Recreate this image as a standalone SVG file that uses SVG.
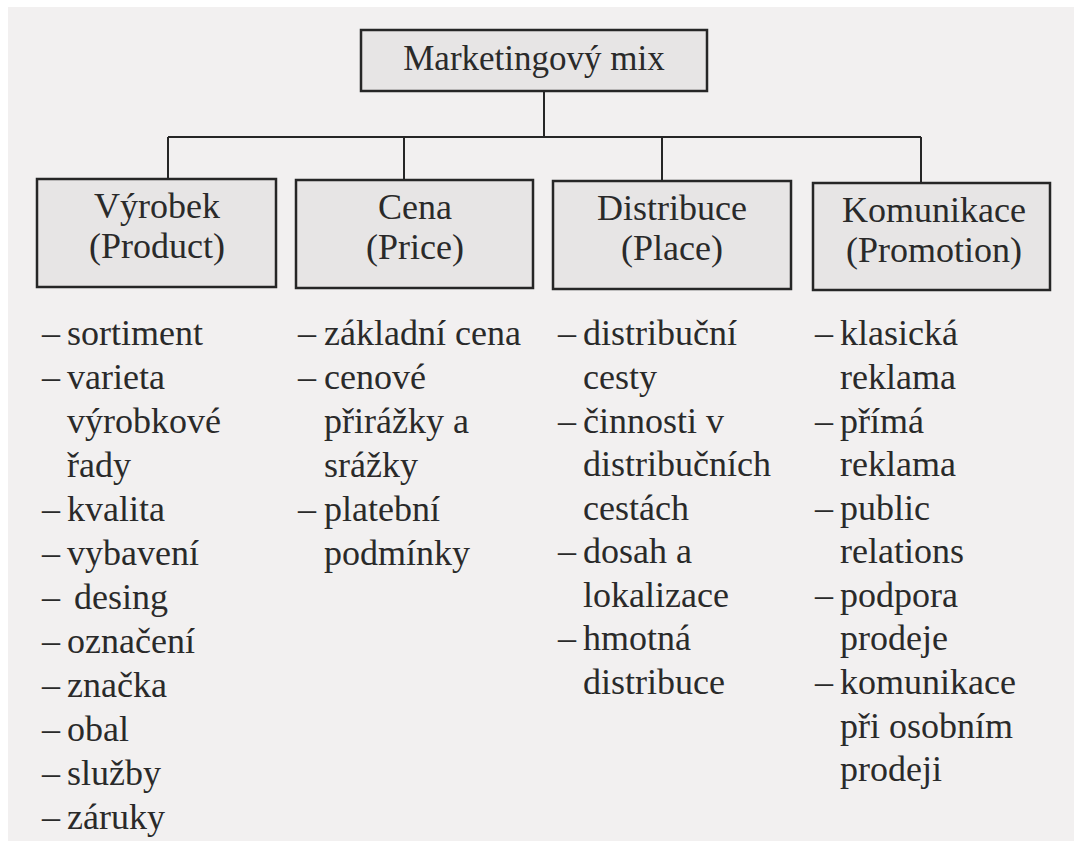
<svg xmlns="http://www.w3.org/2000/svg" width="1074" height="841" viewBox="0 0 1074 841">
<style>
.t{font-family:Liberation Serif, Times New Roman, Times, DejaVu Serif, serif;fill:#2a2a2a}
.lbl{font-size:36px;text-anchor:middle}
.ttl{font-size:35px;text-anchor:middle}
.li{font-size:36px}
.box{fill:#e7e5e5;stroke:#262626;stroke-width:2.5}
.con{fill:none;stroke:#262626;stroke-width:2}
</style>
<rect x="0" y="0" width="1074" height="841" fill="#ffffff"/>
<rect x="8" y="7" width="1066" height="834" fill="#f2f0f0"/>
<g id="connectors">
<path class="con" d="M544 91V137M168 137H921M168 137V179M404 137V180M662 137V181M921 137V183"/>
</g>
<g id="node-mix">
<rect class="box" x="361" y="30" width="346" height="61"/>
<text class="t ttl" font-family="Liberation Serif" x="534" y="70">Marketingový mix</text>
</g>
<g id="node-vyrobek">
<rect class="box" x="37" y="179" width="239" height="108"/>
<text class="t lbl" font-family="Liberation Serif" x="157" y="218">Výrobek</text>
<text class="t lbl" font-family="Liberation Serif" x="157" y="258">(Product)</text>
</g>
<g id="node-cena">
<rect class="box" x="296" y="180" width="237" height="108"/>
<text class="t lbl" font-family="Liberation Serif" x="415" y="219">Cena</text>
<text class="t lbl" font-family="Liberation Serif" x="415" y="259">(Price)</text>
</g>
<g id="node-distribuce">
<rect class="box" x="553" y="181" width="238" height="108"/>
<text class="t lbl" font-family="Liberation Serif" x="672" y="220">Distribuce</text>
<text class="t lbl" font-family="Liberation Serif" x="672" y="260">(Place)</text>
</g>
<g id="node-komunikace">
<rect class="box" x="813" y="183" width="237" height="107"/>
<text class="t lbl" font-family="Liberation Serif" x="934" y="222">Komunikace</text>
<text class="t lbl" font-family="Liberation Serif" x="934" y="262">(Promotion)</text>
</g>
<g id="list-vyrobek" font-family="Liberation Serif">
<text class="t li" y="345"><tspan x="42">–</tspan><tspan x="67">sortiment</tspan></text>
<text class="t li" y="389"><tspan x="42">–</tspan><tspan x="67">varieta</tspan></text>
<text class="t li" y="433"><tspan x="67">výrobkové</tspan></text>
<text class="t li" y="477"><tspan x="67">řady</tspan></text>
<text class="t li" y="521"><tspan x="42">–</tspan><tspan x="67">kvalita</tspan></text>
<text class="t li" y="565"><tspan x="42">–</tspan><tspan x="67">vybavení</tspan></text>
<text class="t li" y="609"><tspan x="42">–</tspan><tspan x="74">desing</tspan></text>
<text class="t li" y="653"><tspan x="42">–</tspan><tspan x="67">označení</tspan></text>
<text class="t li" y="697"><tspan x="42">–</tspan><tspan x="67">značka</tspan></text>
<text class="t li" y="741"><tspan x="42">–</tspan><tspan x="67">obal</tspan></text>
<text class="t li" y="785"><tspan x="42">–</tspan><tspan x="67">služby</tspan></text>
<text class="t li" y="829"><tspan x="42">–</tspan><tspan x="67">záruky</tspan></text>
</g>
<g id="list-cena" font-family="Liberation Serif">
<text class="t li" y="345"><tspan x="298">–</tspan><tspan x="324">základní cena</tspan></text>
<text class="t li" y="389"><tspan x="298">–</tspan><tspan x="324">cenové</tspan></text>
<text class="t li" y="433"><tspan x="324">přirážky a</tspan></text>
<text class="t li" y="477"><tspan x="324">srážky</tspan></text>
<text class="t li" y="521"><tspan x="298">–</tspan><tspan x="324">platební</tspan></text>
<text class="t li" y="565"><tspan x="324">podmínky</tspan></text>
</g>
<g id="list-distribuce" font-family="Liberation Serif">
<text class="t li" y="345"><tspan x="558">–</tspan><tspan x="583">distribuční</tspan></text>
<text class="t li" y="389"><tspan x="583">cesty</tspan></text>
<text class="t li" y="433"><tspan x="558">–</tspan><tspan x="583">činnosti v</tspan></text>
<text class="t li" y="476"><tspan x="583">distribučních</tspan></text>
<text class="t li" y="520"><tspan x="583">cestách</tspan></text>
<text class="t li" y="563"><tspan x="558">–</tspan><tspan x="583">dosah a</tspan></text>
<text class="t li" y="607"><tspan x="583">lokalizace</tspan></text>
<text class="t li" y="650"><tspan x="558">–</tspan><tspan x="583">hmotná</tspan></text>
<text class="t li" y="694"><tspan x="583">distribuce</tspan></text>
</g>
<g id="list-komunikace" font-family="Liberation Serif">
<text class="t li" y="345"><tspan x="815">–</tspan><tspan x="840">klasická</tspan></text>
<text class="t li" y="389"><tspan x="840">reklama</tspan></text>
<text class="t li" y="433"><tspan x="815">–</tspan><tspan x="840">přímá</tspan></text>
<text class="t li" y="476"><tspan x="840">reklama</tspan></text>
<text class="t li" y="520"><tspan x="815">–</tspan><tspan x="840">public</tspan></text>
<text class="t li" y="563"><tspan x="840">relations</tspan></text>
<text class="t li" y="607"><tspan x="815">–</tspan><tspan x="840">podpora</tspan></text>
<text class="t li" y="650"><tspan x="840">prodeje</tspan></text>
<text class="t li" y="694"><tspan x="815">–</tspan><tspan x="840">komunikace</tspan></text>
<text class="t li" y="738"><tspan x="840">při osobním</tspan></text>
<text class="t li" y="781"><tspan x="840">prodeji</tspan></text>
</g>
</svg>
